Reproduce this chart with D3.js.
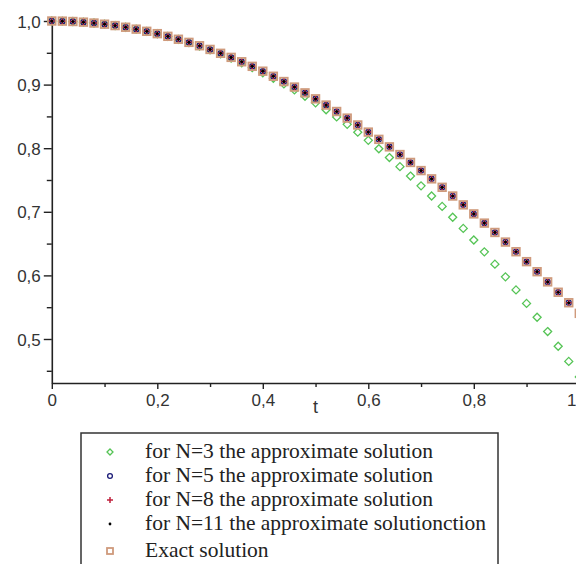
<!DOCTYPE html>
<html>
<head>
<meta charset="utf-8">
<script src="https://cdn.jsdelivr.net/npm/d3@7"></script>
<style>
  html, body { margin: 0; padding: 0; background: #fff; }
  svg { display: block; }
</style>
</head>
<body>
<div id="chart"></div>
<script>
// sample points t = 0 .. 1, step 0.02
var tValues = [0, 0.02, 0.04, 0.06, 0.08, 0.10, 0.12, 0.14, 0.16, 0.18,
  0.20, 0.22, 0.24, 0.26, 0.28, 0.30, 0.32, 0.34, 0.36, 0.38,
  0.40, 0.42, 0.44, 0.46, 0.48, 0.50, 0.52, 0.54, 0.56, 0.58,
  0.60, 0.62, 0.64, 0.66, 0.68, 0.70, 0.72, 0.74, 0.76, 0.78,
  0.80, 0.82, 0.84, 0.86, 0.88, 0.90, 0.92, 0.94, 0.96, 0.98, 1.00];

var exactVals = [1.000, 0.9998, 0.9992, 0.9982, 0.9968, 0.9950, 0.9928, 0.9902, 0.9872, 0.9838,
  0.9801, 0.9759, 0.9713, 0.9664, 0.9611, 0.9553, 0.9492, 0.9428, 0.9359, 0.9287,
  0.9211, 0.9131, 0.9048, 0.8961, 0.8870, 0.8776, 0.8678, 0.8577, 0.8473, 0.8365,
  0.8253, 0.8139, 0.8021, 0.7900, 0.7776, 0.7648, 0.7518, 0.7385, 0.7248, 0.7109,
  0.6967, 0.6822, 0.6675, 0.6524, 0.6372, 0.6216, 0.6058, 0.5898, 0.5735, 0.5570, 0.5403];

var n3Vals = [1.000, 0.9998, 0.9992, 0.9982, 0.9968, 0.9950, 0.9928, 0.9902, 0.9871, 0.9837,
  0.9799, 0.9757, 0.9710, 0.9659, 0.9605, 0.9545, 0.9482, 0.9415, 0.9342, 0.9266,
  0.9185, 0.9100, 0.9011, 0.8916, 0.8817, 0.8713, 0.8605, 0.8492, 0.8375, 0.8252,
  0.8123, 0.7991, 0.7853, 0.7710, 0.7562, 0.7408, 0.7249, 0.7085, 0.6914, 0.6739,
  0.6557, 0.6370, 0.6177, 0.5977, 0.5772, 0.5560, 0.5342, 0.5117, 0.4886, 0.4648, 0.4403];

// N=5, 8, 11 lie on top of the exact solution in the picture
var n5Vals = exactVals.slice();
var n8Vals = exactVals.slice();
var n11Vals = exactVals.slice();

var yTicks = [0.5, 0.6, 0.7, 0.8, 0.9, 1.0];
var yMinor = [0.45, 0.55, 0.65, 0.75, 0.85, 0.95];
var xTicks = [0, 0.2, 0.4, 0.6, 0.8, 1];
var xMinor = [0.1, 0.3, 0.5, 0.7, 0.9];

var legendLabels = ["for N=3 the approximate solution",
  "for N=5 the approximate solution",
  "for N=8 the approximate solution",
  "for N=11 the approximate solutionction",
  "Exact solution"];

var W = 576, H = 564;
var svg = d3.select("#chart").append("svg")
    .attr("width", W)
    .attr("height", H);

var x = d3.scaleLinear().domain([0, 1]).range([51.8, 579.3]);
var y = d3.scaleLinear().domain([0.4308, 1]).range([383, 21]);

var yFmt = function(d) { return d3.format(".1f")(d).replace(".", ","); };
var xFmt = function(d) { return d === 0 ? "0" : d === 1 ? "1" : d3.format(".1f")(d).replace(".", ","); };
var axisColor = "#222";

// y axis
var gy = svg.append("g").attr("transform", "translate(" + x(0) + ",0)")
    .call(d3.axisLeft(y).tickValues(yTicks).tickSize(8).tickSizeOuter(0).tickFormat(yFmt));
gy.append("g").call(d3.axisLeft(y).tickValues(yMinor).tickSize(5).tickFormat(""))
    .select(".domain").remove();

// x axis
var gx = svg.append("g").attr("transform", "translate(0," + y.range()[0] + ")")
    .call(d3.axisBottom(x).tickValues(xTicks).tickSize(6).tickSizeOuter(0).tickFormat(xFmt));
gx.append("g").call(d3.axisBottom(x).tickValues(xMinor).tickSize(4).tickFormat(""))
    .select(".domain").remove();

svg.selectAll(".domain").attr("stroke", axisColor).attr("stroke-width", 1.6);
svg.selectAll(".tick line").attr("stroke", axisColor).attr("stroke-width", 1.4);
svg.selectAll(".tick text")
    .attr("fill", "#333")
    .style("font-family", "'Liberation Sans', Arial, sans-serif")
    .style("font-size", "17px");
gy.selectAll(".tick text").attr("x", -11).attr("dy", "0.36em");
gx.selectAll(".tick text").attr("y", 11).attr("dy", "0.71em");
// the last x label sits at the window edge: keep it inside
gx.selectAll(".tick text").filter(function(d) { return d === 1; })
    .attr("text-anchor", "end").attr("x", 576 - x(1));

svg.append("text")
    .attr("x", x(0.5)).attr("y", 413)
    .attr("text-anchor", "middle")
    .attr("fill", "#333")
    .style("font-family", "'Liberation Sans', Arial, sans-serif")
    .style("font-size", "18px")
    .text("t");

// symbol painters
function diamond(g, cx, cy, s) {
  g.append("path")
    .attr("d", "M" + cx + "," + (cy - s) + "L" + (cx + s) + "," + cy + "L" + cx + "," + (cy + s) + "L" + (cx - s) + "," + cy + "Z")
    .attr("fill", "none").attr("stroke", "#55c455").attr("stroke-width", 1.3);
}
function circle(g, cx, cy, r) {
  g.append("circle").attr("cx", cx).attr("cy", cy).attr("r", r)
    .attr("fill", "none").attr("stroke", "#1c1c78").attr("stroke-width", 1.3);
}
function cross(g, cx, cy, s) {
  g.append("path")
    .attr("d", "M" + (cx - s) + "," + cy + "H" + (cx + s) + "M" + cx + "," + (cy - s) + "V" + (cy + s))
    .attr("stroke", "#c0203c").attr("stroke-width", 1.5);
}
function dot(g, cx, cy, r) {
  g.append("circle").attr("cx", cx).attr("cy", cy).attr("r", r).attr("fill", "#000");
}
function square(g, cx, cy, s) {
  g.append("rect").attr("x", cx - s).attr("y", cy - s).attr("width", 2 * s).attr("height", 2 * s)
    .attr("fill", "none").attr("stroke", "#cf9a7c").attr("stroke-width", 1.8);
}

var marks = svg.append("g");
var series = [
  { vals: n3Vals, draw: function(g, a, b) { diamond(g, a, b, 4); } },
  { vals: n5Vals, draw: function(g, a, b) { circle(g, a, b, 2.6); } },
  { vals: n8Vals, draw: function(g, a, b) { cross(g, a, b, 2.8); } },
  { vals: n11Vals, draw: function(g, a, b) { dot(g, a, b, 1.6); } },
  { vals: exactVals, draw: function(g, a, b) { square(g, a, b, 3.8); } }
];
series.forEach(function(s) {
  s.vals.forEach(function(v, i) {
    s.draw(marks, x(tValues[i]), y(v));
  });
});

// legend
var leg = svg.append("g");
leg.append("rect")
    .attr("x", 81).attr("y", 433).attr("width", 417).attr("height", 200)
    .attr("fill", "none").attr("stroke", "#333").attr("stroke-width", 1.5);
var legBase = [458, 482, 506, 530, 557];
var legSym = [
  function(g, a, b) { diamond(g, a, b, 3); },
  function(g, a, b) { circle(g, a, b, 2.4); },
  function(g, a, b) { cross(g, a, b, 3); },
  function(g, a, b) { dot(g, a, b, 1.4); },
  function(g, a, b) { square(g, a, b, 3); }
];
legendLabels.forEach(function(lbl, i) {
  legSym[i](leg, 110, legBase[i] - 6);
  leg.append("text")
    .attr("x", 145).attr("y", legBase[i])
    .attr("fill", "#222")
    .style("font-family", "'Liberation Serif', 'Times New Roman', serif")
    .style("font-size", "21.5px")
    .text(lbl);
});
</script>
</body>
</html>
